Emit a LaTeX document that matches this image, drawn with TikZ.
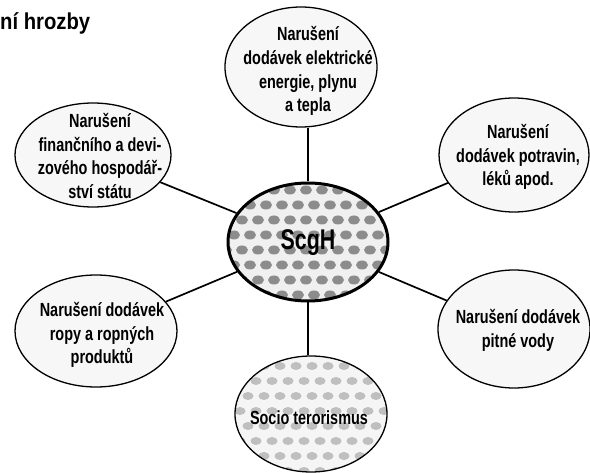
\documentclass[tikz,border=0pt]{standalone}
\usepackage{fontspec}
\setmainfont{Liberation Sans}[FakeStretch=0.76]
\newfontfamily\condfont{Liberation Sans}[FakeStretch=0.75]
\newfontfamily\titlefont{Liberation Sans}[FakeStretch=0.88]
\usetikzlibrary{shapes.geometric}
\begin{document}
\begin{tikzpicture}[x=1pt,y=-1pt,
  sat/.style={draw, ellipse, line width=1.3pt, inner sep=0pt, fill=black!3},
  hub/.style={draw, ellipse, line width=3pt, inner sep=0pt},
  lab/.style={align=center, inner sep=0pt, font=\bfseries\fontsize{19}{23.8}\selectfont},
  link/.style={line width=1.7pt}]
\useasboundingbox (0,0) rectangle (590,473);

% textures of the centre and bottom ellipses
\begin{scope}
  \clip (308,242) ellipse [x radius=80pt, y radius=59pt];
  \fill[black!6] (228,183) rectangle (388,301);
  \foreach \r in {0,...,7} {
    \foreach \c in {0,...,10} {
      \pgfmathsetmacro{\xx}{226 + 16*\c + 8*mod(\r,2)}
      \pgfmathsetmacro{\yy}{190 + 15*\r}
      \fill[black!45] (\xx,\yy) ellipse [x radius=6pt, y radius=4.5pt];
    }
  }
\end{scope}
\begin{scope}
  \clip (311,414) ellipse [x radius=76pt, y radius=58pt];
  \fill[black!4] (235,356) rectangle (387,473);
  \foreach \r in {0,...,7} {
    \foreach \c in {0,...,10} {
      \pgfmathsetmacro{\xx}{232 + 16*\c + 8*mod(\r,2)}
      \pgfmathsetmacro{\yy}{366 + 15*\r}
      \fill[black!25] (\xx,\yy) ellipse [x radius=5.5pt, y radius=4pt];
    }
  }
\end{scope}

% ellipses
\node[hub, minimum width=160pt, minimum height=118pt] (c) at (308,242) {};
\node[sat, minimum width=152pt, minimum height=120pt] (t) at (301,67) {};
\node[sat, minimum width=156pt, minimum height=104pt] (ul) at (93,155) {};
\node[sat, minimum width=150pt, minimum height=114pt] (ur) at (514,155) {};
\node[sat, minimum width=162pt, minimum height=112pt] (ll) at (96,331) {};
\node[sat, minimum width=152pt, minimum height=118pt] (lr) at (514,329) {};
\node[draw, ellipse, line width=1.3pt, inner sep=0pt, minimum width=152pt, minimum height=116pt] (b) at (311,414) {};

% connectors
\draw[link] (c.north) -- (c.north |- t.south);
\draw[link] (c.south) -- (c.south |- b.north);
\draw[link] (c) -- (ul);
\draw[link] (c) -- (ur);
\draw[link] (c) -- (ll);
\draw[link] (c) -- (lr);

% texts
\node[lab] (tT) at (308,71) {Narušení\\dodávek elektrické\\energie, plynu\\a tepla};
\node[lab] (ulT) at (100,156) {Narušení\\finančního a devi-\\zového hospodář-\\ství státu};
\node[lab] (urT) at (518,157) {Narušení\\dodávek potravin,\\léků apod.};
\node[lab] (llT) at (102,335) {Narušení dodávek\\ropy a ropných\\produktů};
\node[lab] (lrT) at (518,330) {Narušení dodávek\\pitné vody};
\node[lab] (bT) at (309,418) {Socio terorismus};
\node[inner sep=0pt, font=\condfont\bfseries\fontsize{28.5}{30}\selectfont] (cT) at (308,243) {ScgH};
\node[inner sep=0pt, anchor=base west, font=\titlefont\bfseries\fontsize{23}{24}\selectfont] (title) at (0,30) {ní hrozby};
\end{tikzpicture}
\end{document}
